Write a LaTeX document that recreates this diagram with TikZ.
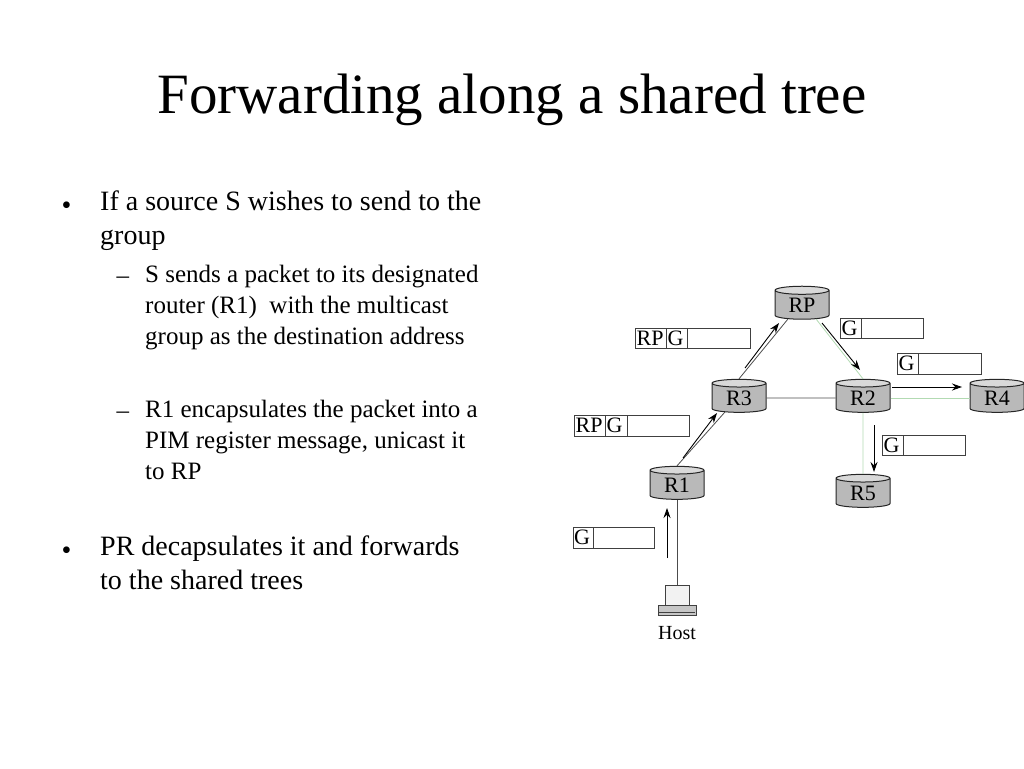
\documentclass[tikz,border=0pt]{standalone}
\usepackage{fontspec}
\setmainfont{Liberation Serif}
\usetikzlibrary{shapes.geometric,arrows.meta}
\begin{document}
\begin{tikzpicture}[x=1pt,y=-1pt,
 router/.style={cylinder,shape border rotate=90,aspect=0.3,minimum width=54pt,minimum height=33pt,draw=black!85,line width=1pt,cylinder uses custom fill,cylinder body fill=gray!55,cylinder end fill=gray!30,inner sep=0pt,font=\fontsize{22}{22}\selectfont},
 link/.style={draw=black!70,line width=0.8pt},
 glink/.style={draw=green!35!gray!45,line width=0.8pt},
 flow/.style={draw=black,line width=0.9pt,-{Stealth[length=10pt,width=7pt]}},
 pkt/.style={draw=black!75,line width=0.9pt},
 pl/.style={font=\fontsize{22}{22}\selectfont,anchor=west,inner sep=0.5pt},
 txt/.style={anchor=north west,align=left,inner sep=0pt}]
\useasboundingbox (0,0) rectangle (1024,768);
\node[font=\fontsize{57}{57}\selectfont] (title) at (512,100) {Forwarding along a shared tree};
\node[anchor=west,font=\fontsize{28}{28}\selectfont] (b1) at (58,208) {•};
\node[txt,font=\fontsize{28}{34}\selectfont] (t1) at (100,191) {If a source S wishes to send to the\\group};
\node[anchor=west,font=\fontsize{25}{25}\selectfont] (d1) at (113,280) {–};
\node[txt,font=\fontsize{25}{31}\selectfont] (t2) at (145,265) {S sends a packet to its designated\\router (R1)\ \ with the multicast\\group as the destination address};
\node[anchor=west,font=\fontsize{25}{25}\selectfont] (d2) at (113,415) {–};
\node[txt,font=\fontsize{25}{31}\selectfont] (t3) at (145,400) {R1 encapsulates the packet into a\\PIM register message, unicast it\\to RP};
\node[anchor=west,font=\fontsize{28}{28}\selectfont] (b2) at (58,553) {•};
\node[txt,font=\fontsize{28}{34}\selectfont] (t4) at (100,536) {PR decapsulates it and forwards\\to the shared trees};
% routers
\node[router] (RP) at (802,305) {RP};
\node[router] (R3) at (739,398) {R3};
\node[router] (R2) at (863,398) {R2};
\node[router] (R4) at (997,398) {R4};
\node[router] (R1) at (677,485) {R1};
\node[router] (R5) at (863,493) {R5};
% host
\node[draw=black!75,fill=gray!10,minimum width=24pt,minimum height=20pt,inner sep=0pt,line width=1pt] (scr) at (677,595) {};
\node[draw=black!75,fill=gray!45,minimum width=38pt,minimum height=10pt,inner sep=0pt,line width=1pt] (kb) at (677,610) {};
\draw[black!75,line width=0.8pt] (659,612) -- (695,612);
\node[font=\fontsize{20}{20}\selectfont] (host) at (677,633) {Host};
% links
\draw[link] (R1.north) -- (R3.south west);
\draw[link] (R3.north) -- (RP.south west);
\draw[link] (R3.east) -- (R2.west);
\draw[link] (scr.north) -- (R1.south);
\draw[glink] (RP.south east) -- (R2.north);
\draw[glink] (R2.east) -- (R4.west);
\draw[glink] (R2.south) -- (R5.north);
% flows
\coordinate (a1) at (667,558); \coordinate (a2) at (667,508);
\coordinate (b1s) at (683,458); \coordinate (b1e) at (717,413);
\coordinate (c1) at (745,368); \coordinate (c2) at (779,323);
\coordinate (e1) at (822,323); \coordinate (e2) at (860,370);
\coordinate (f1) at (892,387); \coordinate (f2) at (962,387);
\coordinate (g1) at (874,425); \coordinate (g2) at (874,472);
\draw[flow] (a1) -- (a2);
\draw[flow] (b1s) -- (b1e);
\draw[flow] (c1) -- (c2);
\draw[flow] (e1) -- (e2);
\draw[flow] (f1) -- (f2);
\draw[flow] (g1) -- (g2);
% packets
\draw[pkt] (635,328) rectangle (750,348) (666,328) -- (666,348) (687,328) -- (687,348);
\node[pl] (p1a) at (636,338) {RP}; \node[pl] (p1b) at (667,338) {G};
\draw[pkt] (574,415) rectangle (689,436) (605,415) -- (605,436) (627,415) -- (627,436);
\node[pl] (p2a) at (575,425.5) {RP}; \node[pl] (p2b) at (606,425.5) {G};
\draw[pkt] (840,318) rectangle (923,338) (861,318) -- (861,338);
\node[pl] (p3) at (841,328) {G};
\draw[pkt] (897,353) rectangle (981,374) (918,353) -- (918,374);
\node[pl] (p4) at (898,363.5) {G};
\draw[pkt] (882,435) rectangle (965,455) (903,435) -- (903,455);
\node[pl] (p5) at (883,445) {G};
\draw[pkt] (573,527) rectangle (654,548) (593,527) -- (593,548);
\node[pl] (p6) at (573.5,537.5) {G};
\end{tikzpicture}
\end{document}
